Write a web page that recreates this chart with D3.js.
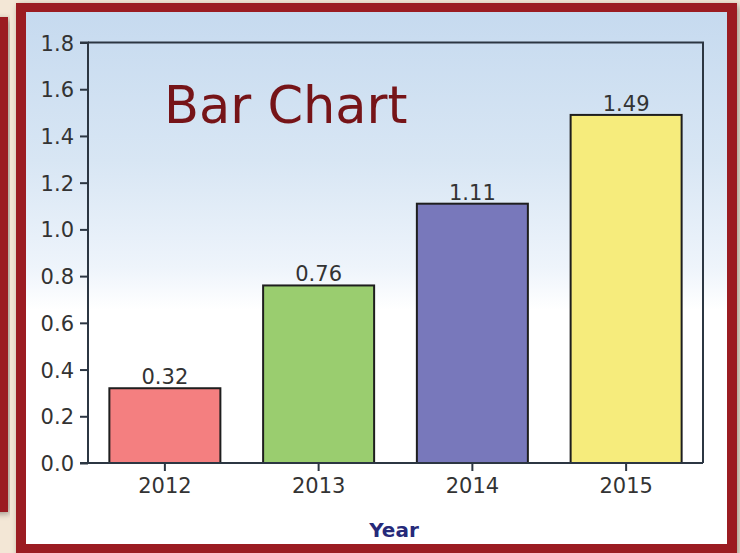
<!DOCTYPE html>
<html>
<head>
<meta charset="utf-8">
<script src="https://cdn.jsdelivr.net/npm/d3@7"></script>
<style>
  html, body { margin: 0; padding: 0; background: #f3e7d6; }
  svg { display: block; }
</style>
</head>
<body>
<svg id="chart" width="740" height="553"></svg>
<script>
// Data
const years = ["2012", "2013", "2014", "2015"];
const values = [0.32, 0.76, 1.11, 1.49];
const barColors = ["#f47f80", "#9acd6f", "#7878bb", "#f6ec7c"];
const yTicks = [0, 0.2, 0.4, 0.6, 0.8, 1.0, 1.2, 1.4, 1.6, 1.8];

const svg = d3.select("#chart");
const W = 740, H = 553;

const defs = svg.append("defs");
const grad = defs.append("linearGradient")
  .attr("id", "panelGrad").attr("x1", 0).attr("y1", 0).attr("x2", 0).attr("y2", 1);
grad.append("stop").attr("offset", "0%").attr("stop-color", "#c6daef");
grad.append("stop").attr("offset", "28%").attr("stop-color", "#d8e6f4");
grad.append("stop").attr("offset", "48%").attr("stop-color", "#eef4fb");
grad.append("stop").attr("offset", "56%").attr("stop-color", "#ffffff");
grad.append("stop").attr("offset", "100%").attr("stop-color", "#ffffff");

const shadow = defs.append("filter").attr("id", "shadow")
  .attr("x", "-5%").attr("y", "-5%").attr("width", "110%").attr("height", "110%");
shadow.append("feGaussianBlur").attr("in", "SourceAlpha").attr("stdDeviation", 3);
shadow.append("feOffset").attr("dx", 2).attr("dy", 2).attr("result", "b");
shadow.append("feComponentTransfer").append("feFuncA").attr("type", "linear").attr("slope", 0.35);
const merge = shadow.append("feMerge");
merge.append("feMergeNode");
merge.append("feMergeNode").attr("in", "SourceGraphic");

// backdrop
svg.append("rect").attr("width", W).attr("height", H).attr("fill", "#f3e7d6");

// partial frame on the left edge
svg.append("rect").attr("x", -20).attr("y", 17).attr("width", 28).attr("height", 495)
  .attr("fill", "#9b1b20").attr("filter", "url(#shadow)");

// main frame
svg.append("rect").attr("x", 16).attr("y", 3).attr("width", 721).attr("height", 560)
  .attr("fill", "#9b1b20").attr("filter", "url(#shadow)");
svg.append("rect").attr("x", 26).attr("y", 12).attr("width", 701).attr("height", 532)
  .attr("fill", "url(#panelGrad)");

// scales
const plot = { left: 88, right: 703, top: 42.5, bottom: 463 };
const x = d3.scaleBand().domain(years).range([plot.left, plot.right])
  .paddingInner(0.278).paddingOuter(0.139);
const y = d3.scaleLinear().domain([0, 1.8]).range([plot.bottom, plot.top]);

const fontNum = "'DejaVu Sans', sans-serif";
const axisColor = "#2c3642";

// plot frame (top and right)
svg.append("path")
  .attr("d", `M${plot.left},${plot.top}H${plot.right}V${plot.bottom}`)
  .attr("fill", "none").attr("stroke", axisColor).attr("stroke-width", 2);

// bars
svg.append("g").selectAll("rect").data(values).join("rect")
  .attr("x", (d, i) => x(years[i]))
  .attr("y", d => y(d))
  .attr("width", x.bandwidth())
  .attr("height", d => y(0) - y(d))
  .attr("fill", (d, i) => barColors[i])
  .attr("stroke", "#1e1e1e").attr("stroke-width", 2);

// value labels
svg.append("g").selectAll("text").data(values).join("text")
  .attr("x", (d, i) => x(years[i]) + x.bandwidth() / 2)
  .attr("y", d => y(d) - 4)
  .attr("text-anchor", "middle")
  .attr("font-family", fontNum).attr("font-size", 21)
  .attr("fill", "#333")
  .text(d => d.toFixed(2));

// y axis
const yAxis = svg.append("g").attr("transform", `translate(${plot.left},0)`)
  .call(d3.axisLeft(y).tickValues(yTicks).tickSize(8).tickPadding(6).tickFormat(d3.format(".1f")));
yAxis.select(".domain").attr("d", `M-8,${plot.top}H0V${plot.bottom}H-8`)
  .attr("stroke", axisColor).attr("stroke-width", 2);
yAxis.selectAll(".tick line").attr("stroke", axisColor).attr("stroke-width", 2);
yAxis.selectAll(".tick text").attr("font-family", fontNum).attr("font-size", 21)
  .attr("fill", "#333").attr("dy", "0.36em");

// x axis
const xAxis = svg.append("g").attr("transform", `translate(0,${plot.bottom})`)
  .call(d3.axisBottom(x).tickSize(8).tickPadding(7));
xAxis.select(".domain").attr("d", `M${plot.left - 8},0H${plot.right}`)
  .attr("stroke", axisColor).attr("stroke-width", 2);
xAxis.selectAll(".tick line").attr("stroke", axisColor).attr("stroke-width", 2);
xAxis.selectAll(".tick text").attr("font-family", fontNum).attr("font-size", 21)
  .attr("fill", "#333");

// axis title
svg.append("text").attr("x", 394).attr("y", 537)
  .attr("text-anchor", "middle")
  .attr("font-family", "'DejaVu Sans', sans-serif").attr("font-weight", "bold")
  .attr("font-size", 20).attr("fill", "#262a7a")
  .text("Year");

// chart title
svg.append("text").attr("x", 164).attr("y", 123)
  .attr("font-family", "'DejaVu Sans', sans-serif")
  .attr("font-size", 51).attr("fill", "#761418")
  .text("Bar Chart");
</script>
</body>
</html>
